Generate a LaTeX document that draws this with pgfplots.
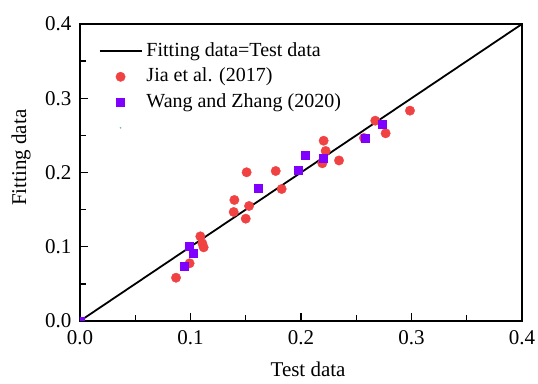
\documentclass[border=0pt]{standalone}
\usepackage{pgfplots}
\pgfplotsset{compat=1.18}
\usepackage{fontspec}
\setmainfont{Liberation Serif}
\definecolor{jiared}{RGB}{240,66,66}
\definecolor{wangpurple}{RGB}{128,0,255}
\definecolor{tealdot}{RGB}{110,190,170}
\begin{document}
\begin{tikzpicture}
\begin{axis}[
  scale only axis,
  width=442pt, height=297pt,
  xmin=0, xmax=0.4, ymin=0, ymax=0.4,
  xtick={0,0.1,0.2,0.3,0.4},
  ytick={0,0.1,0.2,0.3,0.4},
  minor xtick={0.05,0.15,0.25,0.35},
  minor ytick={0.05,0.15,0.25,0.35},
  xtick pos=bottom, ytick pos=left,
  tick align=inside,
  major tick length=8pt, minor tick length=5.5pt,
  axis line style={line width=1.3pt},
  every tick/.style={line width=1.3pt, black},
  clip marker paths=true,
  /pgf/number format/assume math mode=true,
  /pgf/number format/.cd, fixed, fixed zerofill, precision=1, /pgfplots/.cd,
  tick label style={font=\fontsize{21}{25}\selectfont},
  xticklabel style={yshift=-6pt},
  yticklabel style={xshift=-5pt},
  label style={font=\fontsize{21}{25}\selectfont},
  xlabel={Test data},
  ylabel={Fitting data},
  xlabel style={at={(axis description cs:0.516,-0.162)}, anchor=center},
  ylabel style={at={(axis description cs:-0.133,0.55)}, anchor=center, rotate=0},
  legend image code/.code={\draw[mark repeat=2,mark phase=2,#1] plot coordinates {(0pt,0pt) (21pt,0pt) (42pt,0pt)};},
  legend style={at={(axis description cs:0.035,0.95)}, anchor=north west, draw=none, fill=none,
    font=\fontsize{20}{24}\selectfont, row sep=5pt,
    nodes={inner ysep=1pt, inner xsep=4pt, text height=14pt, text depth=4.5pt}},
  legend cell align=left,
]
\addplot[black, line width=1.8pt] coordinates {(0,0) (0.4,0.4)};
\addlegendentry{Fitting data=Test data}
\addplot[only marks, mark=*, mark size=4.7pt, color=jiared] coordinates {
(0.0869,0.0583) (0.0992,0.0777) (0.1089,0.1140) (0.1107,0.1046) (0.1119,0.0992)
(0.1397,0.1630) (0.1391,0.1468) (0.1500,0.1378) (0.1508,0.2003) (0.1530,0.1549)
(0.1771,0.2020) (0.1825,0.1778) (0.2205,0.2428) (0.2223,0.2290) (0.2193,0.2124)
(0.2344,0.2162) (0.2570,0.2465) (0.2672,0.2698) (0.2766,0.2528) (0.2986,0.2833)
};
\addlegendentry{Jia et al. (2017)}
\addplot[only marks, mark=square*, mark size=4pt, color=wangpurple] coordinates {
(0,0) (0.0941,0.0741) (0.0989,0.1001) (0.1026,0.0907) (0.1614,0.1785)
(0.1976,0.2034) (0.2039,0.2231) (0.2199,0.2191) (0.2579,0.2465) (0.2733,0.2649)
};
\addlegendentry{Wang and Zhang (2020)}
\addlegendimage{only marks, mark=*, mark size=0.6pt, color=tealdot}
\addlegendentry{}
\coordinate (A) at (rel axis cs:0,0);
\coordinate (B) at (rel axis cs:1,1);
\end{axis}
\pgfresetboundingbox
\path[use as bounding box] ([shift={(-80pt,-63pt)}]A) rectangle ([shift={(16pt,24pt)}]B);
\end{tikzpicture}
\end{document}
